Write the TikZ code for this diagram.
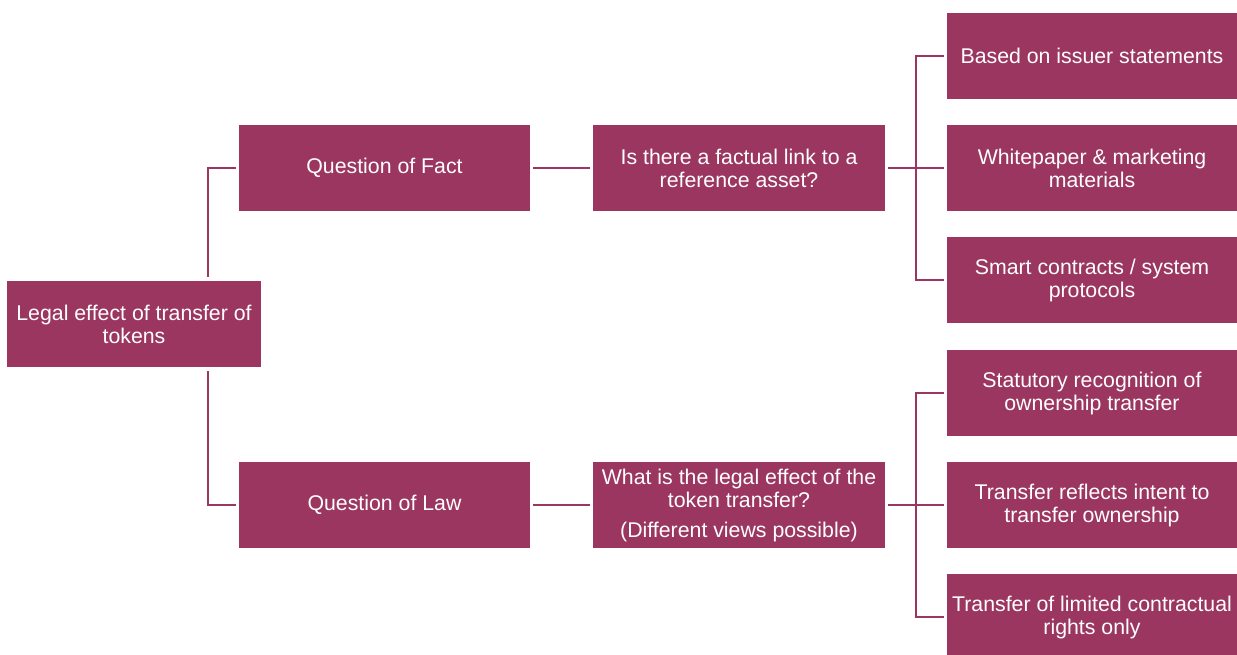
\documentclass[tikz,border=0pt]{standalone}
\usepackage{fontspec}
\setmainfont{Liberation Sans}
\definecolor{plum}{RGB}{155,54,96}
\begin{document}
\begin{tikzpicture}[x=1pt,y=-1pt,
  box/.style={fill=plum,draw=none,text=white,align=center,inner sep=0pt,
    minimum height=86pt,font=\fontsize{21.3}{23}\selectfont},
  rootbox/.style={box,minimum width=254pt},
  midbox/.style={box,minimum width=291pt},
  rbox/.style={box,minimum width=290pt},
  link/.style={draw=plum,line width=2.2pt}]
\useasboundingbox (0,0) rectangle (1237,654);
\clip (0,0) rectangle (1237,654);
\node[rootbox] (root) at (134,324) {Legal effect of transfer of\\tokens};
\node[midbox] (fact) at (384.5,168) {Question of Fact};
\node[midbox] (law) at (384.5,505) {Question of Law};
\node[midbox,minimum width=292pt] (q1) at (739,168) {Is there a factual link to a\\reference asset?};
\node[midbox,minimum width=292pt] (q2) at (739,505) {What is the legal effect of the\\token transfer?\\[7pt](Different views possible)};
\node[rbox] (a1) at (1092,56) {Based on issuer statements};
\node[rbox] (a2) at (1092,168) {Whitepaper \& marketing\\materials};
\node[rbox] (a3) at (1092,280) {Smart contracts / system\\protocols};
\node[rbox] (b1) at (1092,393) {Statutory recognition of\\ownership transfer};
\node[rbox] (b2) at (1092,505) {Transfer reflects intent to\\transfer ownership};
\node[rbox] (b3) at (1092,617) {Transfer of limited contractual\\rights only};
% root to questions
\draw[link] ([xshift=74pt,yshift=4pt]root.north) |- ([xshift=-3pt]fact.west);
\draw[link] ([xshift=74pt,yshift=-4pt]root.south) |- ([xshift=-3pt]law.west);
% questions to middle boxes
\draw[link] ([xshift=3pt]fact.east) -- ([xshift=-3pt]q1.west);
\draw[link] ([xshift=3pt]law.east) -- ([xshift=-3pt]q2.west);
% middle to right
\coordinate (j1) at ([xshift=31pt]q1.east);
\coordinate (j2) at ([xshift=31pt]q2.east);
\draw[link] ([xshift=3pt]q1.east) -- ([xshift=-3pt]a2.west);
\draw[link] ([xshift=-3pt]a1.west) -| (j1) |- ([xshift=-3pt]a3.west);
\draw[link] ([xshift=3pt]q2.east) -- ([xshift=-3pt]b2.west);
\draw[link] ([xshift=-3pt]b1.west) -| (j2) |- ([xshift=-3pt]b3.west);
\end{tikzpicture}
\end{document}
